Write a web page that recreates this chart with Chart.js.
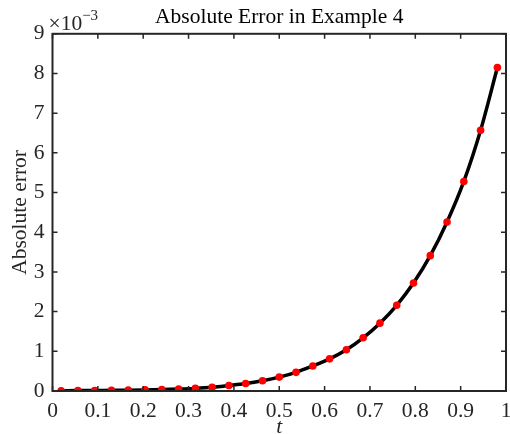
<!DOCTYPE html>
<html>
<head>
<meta charset="utf-8">
<script src="https://cdn.jsdelivr.net/npm/chart.js@4/dist/chart.umd.min.js"></script>
<style>
  html, body { margin: 0; padding: 0; background: #ffffff; }
  #wrap { width: 510px; height: 434px; }
</style>
</head>
<body>
<div id="wrap"><canvas id="c" width="510" height="434"></canvas></div>
<script>
// Data (absolute error in units of 1e-3)
const tValues = [0.019, 0.056, 0.093, 0.130, 0.167, 0.204, 0.241, 0.278, 0.315, 0.352,
                 0.389, 0.426, 0.463, 0.500, 0.537, 0.574, 0.611, 0.648, 0.685, 0.722,
                 0.759, 0.796, 0.833, 0.870, 0.907, 0.944, 0.981];
const errValues = [0.003, 0.010, 0.013, 0.018, 0.022, 0.028, 0.036, 0.048, 0.066, 0.094,
                   0.140, 0.190, 0.260, 0.350, 0.470, 0.630, 0.810, 1.040, 1.340, 1.710,
                   2.160, 2.720, 3.410, 4.260, 5.280, 6.570, 8.150];
const xTickLabels = ['0', '0.1', '0.2', '0.3', '0.4', '0.5', '0.6', '0.7', '0.8', '0.9', '1'];
const yTickLabels = ['0', '1', '2', '3', '4', '5', '6', '7', '8', '9'];

const pts = tValues.map((t, i) => ({ x: t, y: errValues[i] }));
const FONT = '"Liberation Serif", "Times New Roman", serif';
const FS = 21.5;
const AX = '#262626';

const boxPlugin = {
  id: 'boxPlugin',
  afterDraw(chart) {
    const ctx = chart.ctx;
    const a = chart.chartArea;
    const xs = chart.scales.x, ys = chart.scales.y;
    ctx.save();
    ctx.strokeStyle = AX;
    ctx.lineWidth = 1.5;
    const tl = 5;
    ctx.beginPath();
    xs.ticks.forEach(tk => {
      const px = xs.getPixelForValue(tk.value);
      ctx.moveTo(px, a.bottom); ctx.lineTo(px, a.bottom - tl);
      ctx.moveTo(px, a.top); ctx.lineTo(px, a.top + tl);
    });
    ys.ticks.forEach(tk => {
      const py = ys.getPixelForValue(tk.value);
      ctx.moveTo(a.left, py); ctx.lineTo(a.left + tl, py);
      ctx.moveTo(a.right, py); ctx.lineTo(a.right - tl, py);
    });
    ctx.stroke();
    ctx.lineWidth = 2;
    ctx.strokeRect(a.left, a.top, a.right - a.left, a.bottom - a.top);
    // exponent label
    ctx.fillStyle = AX;
    ctx.textBaseline = 'alphabetic';
    ctx.textAlign = 'left';
    ctx.font = FS + 'px ' + FONT;
    const base = '\u00d710';
    ctx.fillText(base, a.left - 4, a.top - 4);
    const w = ctx.measureText(base).width;
    ctx.font = '15px ' + FONT;
    ctx.fillText('\u22123', a.left - 4 + w, a.top - 14);
    ctx.restore();
  }
};

new Chart(document.getElementById('c'), {
  type: 'scatter',
  data: {
    datasets: [
      {
        type: 'line',
        data: pts,
        borderColor: '#000000',
        borderWidth: 3.5,
        pointRadius: 0,
        cubicInterpolationMode: 'monotone',
        fill: false,
        order: 2
      },
      {
        type: 'scatter',
        data: pts,
        backgroundColor: '#ff0000',
        borderColor: '#ff0000',
        pointRadius: 3.8,
        borderWidth: 0,
        order: 1
      }
    ]
  },
  options: {
    responsive: false,
    animation: false,
    devicePixelRatio: 1,
    layout: { padding: { left: 0, right: 3, top: 0, bottom: 0 } },
    plugins: {
      legend: { display: false },
      tooltip: { enabled: false },
      title: {
        display: true,
        text: 'Absolute Error in Example 4',
        color: '#000000',
        fullSize: false,
        font: { family: FONT, size: FS, weight: 'normal' },
        padding: { top: 4, bottom: 4 }
      }
    },
    scales: {
      x: {
        type: 'linear',
        min: 0, max: 1,
        grid: { display: false, drawTicks: false },
        border: { display: false },
        afterFit(s) { s.height = 43; s.paddingLeft = 0; s.paddingRight = 0; },
        afterBuildTicks(s) { s.ticks = xTickLabels.map((l, i) => ({ value: i / 10 })); },
        ticks: {
          color: AX,
          padding: 7,
          maxRotation: 0,
          autoSkip: false,
          font: { family: FONT, size: FS },
          callback: (v, i) => xTickLabels[i]
        },
        title: {
          display: true,
          text: 't',
          color: AX,
          font: { family: FONT, size: FS, style: 'italic' },
          padding: { top: -5, bottom: -6 }
        }
      },
      y: {
        type: 'linear',
        min: 0, max: 9,
        grid: { display: false, drawTicks: false },
        border: { display: false },
        afterFit(s) { s.width = 52.5; s.paddingTop = 0; s.paddingBottom = 0; },
        afterBuildTicks(s) { s.ticks = yTickLabels.map((l, i) => ({ value: i })); },
        ticks: {
          color: AX,
          padding: 8,
          autoSkip: false,
          font: { family: FONT, size: FS },
          callback: (v, i) => yTickLabels[i]
        },
        title: {
          display: true,
          text: 'Absolute error',
          color: AX,
          font: { family: FONT, size: FS },
          padding: { top: 7, bottom: 0 }
        }
      }
    }
  },
  plugins: [boxPlugin]
});
</script>
</body>
</html>
